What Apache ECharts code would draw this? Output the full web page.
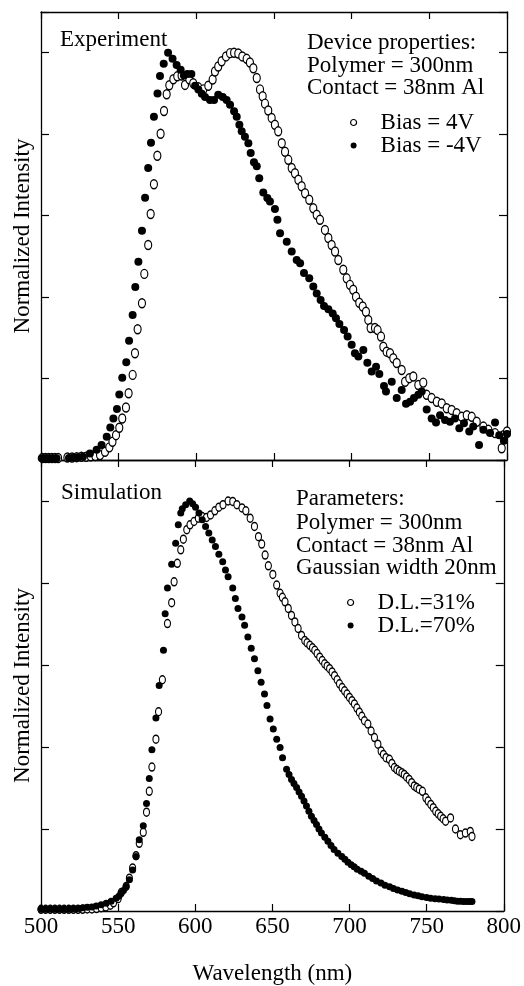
<!DOCTYPE html>
<html><head><meta charset="utf-8">
<script src="https://cdn.jsdelivr.net/npm/echarts@6/dist/echarts.min.js"></script>
<style>html,body{margin:0;padding:0;background:#fff}#c{width:524px;height:986px}</style>
</head><body><div id="c"></div>
<script>
// ---------- data ----------
const xTicks = [500, 550, 600, 650, 700, 750, 800];
const yTicks = [0, 0.2, 0.4, 0.6, 0.8, 1.0];
const yMax = 1.1;

const expBias4V = [[501,0.005],[503,0.005],[505,0.005],[507,0.005],[509,0.005],[511,0.005],[517,0.006],[520,0.006],[523,0.007],[526,0.008],[529,0.008],[532,0.009],[535,0.01],[538,0.012],[541.2,0.02],[544,0.031],[546,0.045],[548.3,0.061],[550.4,0.079],[552.3,0.102],[554.7,0.129],[556.4,0.164],[559,0.209],[560.5,0.262],[562.2,0.321],[565,0.385],[566.5,0.457],[569,0.528],[570.6,0.604],[572.7,0.677],[574.9,0.747],[577,0.801],[579.2,0.857],[580.9,0.898],[582.6,0.92],[585.2,0.935],[587.7,0.942],[590.5,0.944],[592.7,0.921],[595.5,0.935],[598,0.925],[601.3,0.915],[604.5,0.91],[607.7,0.919],[610.5,0.934],[612,0.954],[614.1,0.966],[616.3,0.979],[619.1,0.991],[621.7,0.999],[624.3,1.0],[627,0.998],[629.6,0.991],[632.4,0.985],[634.5,0.976],[636.7,0.962],[638.9,0.938],[641,0.91],[642.7,0.893],[644.2,0.875],[646.3,0.858],[648.5,0.84],[650.6,0.823],[652.7,0.807],[655,0.778],[657.1,0.757],[659.2,0.737],[661.4,0.717],[663.5,0.704],[665.7,0.688],[667.8,0.672],[670,0.655],[672.7,0.639],[675.3,0.618],[677.5,0.602],[679.6,0.59],[682.8,0.565],[685,0.545],[687.1,0.528],[689.3,0.512],[691.4,0.491],[694.6,0.467],[696.8,0.446],[698.9,0.43],[701,0.418],[702.8,0.401],[704.9,0.386],[707.1,0.377],[709.2,0.364],[710.7,0.344],[712.2,0.324],[715,0.324],[716.7,0.319],[718.9,0.303],[720.4,0.278],[722.5,0.266],[724.7,0.262],[726.8,0.25],[729,0.238],[732.2,0.221],[734.4,0.192],[737.1,0.201],[739.7,0.205],[742.9,0.184],[746.1,0.19],[748.3,0.16],[751.5,0.152],[754.8,0.143],[758,0.139],[761.2,0.127],[764.4,0.123],[767.6,0.115],[770.9,0.106],[774.1,0.11],[777.3,0.106],[780.5,0.094],[784.8,0.082],[788,0.074],[792.3,0.066],[796.6,0.029],[797.7,0.061],[800,0.07]];

const expBiasNeg4V = [[500.5,0.004],[502,0.004],[504,0.004],[506,0.004],[508,0.004],[510,0.004],[518,0.005],[521,0.006],[524,0.007],[527,0.008],[531.5,0.016],[535.8,0.025],[539,0.037],[542.3,0.057],[544.6,0.08],[546.6,0.102],[548.9,0.125],[550.4,0.161],[552.3,0.202],[554.9,0.24],[556.7,0.293],[559,0.356],[560.7,0.425],[562.7,0.487],[565,0.563],[567,0.644],[569,0.717],[570.8,0.779],[572.7,0.843],[575,0.9],[576.6,0.943],[579,0.973],[581.8,1.0],[584.7,0.985],[587.3,0.97],[589.9,0.958],[592,0.944],[594.2,0.948],[596.8,0.948],[599.2,0.919],[601.3,0.91],[603.5,0.899],[605.6,0.891],[608.8,0.884],[611.4,0.884],[614.1,0.897],[617,0.891],[619.5,0.884],[621.7,0.872],[624.3,0.856],[626,0.843],[627.7,0.823],[629.2,0.807],[631.3,0.794],[633.5,0.778],[635,0.754],[637.1,0.731],[638.9,0.721],[640.5,0.692],[643.1,0.657],[645.7,0.643],[647.4,0.635],[650.6,0.616],[652.2,0.59],[653.9,0.557],[658.2,0.536],[661.4,0.512],[664.6,0.491],[666.8,0.483],[669.3,0.459],[672.7,0.446],[675.3,0.426],[677.5,0.409],[680,0.393],[682.2,0.378],[685,0.37],[687.8,0.36],[689.9,0.348],[692.1,0.334],[695.1,0.319],[697.4,0.303],[700,0.283],[702.1,0.262],[704.3,0.254],[707.5,0.27],[710.1,0.239],[712.9,0.217],[715.7,0.229],[717.8,0.211],[720.8,0.182],[722.1,0.168],[725.8,0.192],[729,0.152],[732.2,0.172],[735,0.138],[737.6,0.143],[740.1,0.152],[742.9,0.16],[745.1,0.168],[748.3,0.124],[751.5,0.102],[754.3,0.092],[756.9,0.11],[760.1,0.098],[763.3,0.094],[766.5,0.102],[769.3,0.078],[772.3,0.09],[775.7,0.07],[778.3,0.082],[782,0.037],[784.8,0.074],[789.1,0.066],[792.3,0.092],[795,0.061],[798,0.047],[800,0.064]];

const simDL31 = [[500,0.004],[503,0.004],[506,0.004],[509,0.004],[512,0.004],[515,0.004],[518,0.004],[521,0.004],[524,0.004],[527,0.004],[530,0.005],[533,0.005],[536,0.006],[539,0.008],[542,0.01],[545,0.014],[547,0.02],[550,0.03],[552,0.045],[555.2,0.06],[557.3,0.08],[559.4,0.105],[561.6,0.135],[563.7,0.165],[566.3,0.192],[568.4,0.241],[570.2,0.292],[571.9,0.351],[574.5,0.419],[576.2,0.486],[578.7,0.564],[582,0.701],[584.7,0.752],[586.3,0.803],[588.4,0.848],[590.6,0.881],[592.3,0.907],[594.5,0.93],[596.6,0.942],[599.2,0.95],[602,0.958],[604.5,0.962],[607.3,0.96],[609.9,0.966],[612.7,0.976],[615.3,0.985],[618,0.991],[621.3,1.0],[624.3,0.999],[627,0.991],[630.3,0.983],[632.8,0.976],[635.6,0.958],[638.4,0.938],[641,0.913],[643.1,0.895],[645.3,0.868],[647.4,0.842],[650.3,0.821],[652.8,0.795],[655,0.775],[656.5,0.765],[658.2,0.754],[660.3,0.738],[662.4,0.721],[664.6,0.705],[666.7,0.689],[668.9,0.672],[671,0.66],[672.5,0.654],[674.3,0.648],[676,0.642],[677.5,0.636],[679,0.628],[680.7,0.619],[682.3,0.611],[683.9,0.603],[685.5,0.597],[687.1,0.591],[688.7,0.583],[690.3,0.574],[692,0.564],[693.5,0.554],[695.2,0.545],[696.8,0.537],[698.4,0.529],[700,0.521],[701.6,0.513],[703.2,0.505],[704.8,0.495],[706.4,0.485],[708,0.475],[709.7,0.464],[711.9,0.456],[714,0.439],[716.2,0.423],[718.4,0.407],[720.5,0.39],[722,0.382],[723.7,0.374],[725.9,0.37],[727.5,0.36],[729.1,0.35],[730.7,0.345],[732.3,0.341],[734,0.337],[735.5,0.333],[737,0.327],[738.7,0.321],[740.3,0.313],[742,0.305],[743.6,0.301],[745.2,0.297],[747.3,0.292],[749.5,0.276],[751,0.268],[752.7,0.26],[754.3,0.252],[755.9,0.243],[757.5,0.237],[759.1,0.231],[760.7,0.225],[762.3,0.219],[765.5,0.227],[768.7,0.2],[771.9,0.186],[775.1,0.19],[778.3,0.194],[779.4,0.182]];

const simDL70 = [[500,0.004],[502.5,0.004],[505,0.004],[507.5,0.004],[510,0.004],[512.5,0.004],[515,0.004],[517.5,0.004],[520,0.005],[522.5,0.005],[525,0.006],[527.2,0.008],[530,0.009],[533,0.01],[535.8,0.012],[539,0.015],[542.3,0.019],[545.5,0.024],[548.7,0.031],[550.5,0.036],[551.9,0.043],[553.5,0.05],[555.2,0.06],[557.3,0.076],[559.4,0.1],[561.6,0.133],[563.7,0.174],[566.3,0.208],[568.4,0.262],[570.2,0.323],[571.9,0.393],[574.5,0.471],[576.6,0.55],[579.4,0.636],[580.5,0.725],[582,0.788],[584.7,0.846],[587.3,0.897],[589,0.942],[590.6,0.971],[591.6,0.981],[593.8,0.991],[596.4,1.0],[598.3,0.993],[600.2,0.985],[602.4,0.971],[604.5,0.954],[606.7,0.938],[608.8,0.922],[611,0.905],[613.1,0.889],[615.3,0.87],[617.8,0.852],[619.6,0.832],[621.3,0.815],[624.3,0.788],[626,0.762],[627.7,0.738],[630.3,0.717],[632,0.697],[634.1,0.668],[636.3,0.641],[638.4,0.615],[640.6,0.586],[642.7,0.558],[644.9,0.529],[646.5,0.501],[648.5,0.468],[650.6,0.444],[652.8,0.419],[655,0.399],[656.6,0.374],[659.2,0.346],[660.8,0.333],[662.4,0.321],[664,0.311],[665.7,0.301],[667.3,0.29],[668.9,0.28],[670.5,0.268],[672.1,0.256],[673.7,0.243],[675.3,0.231],[677,0.221],[678.6,0.211],[680.2,0.2],[681.8,0.19],[684,0.18],[686,0.17],[688,0.16],[690,0.15],[692.5,0.141],[695,0.133],[697,0.126],[699,0.119],[701.1,0.113],[703,0.108],[705,0.102],[707.5,0.097],[709.7,0.092],[712.5,0.085],[715,0.079],[717.5,0.073],[720.4,0.068],[723,0.063],[726,0.059],[728.5,0.055],[731.2,0.051],[734,0.048],[736.5,0.045],[739,0.042],[741.9,0.039],[744.5,0.037],[747,0.035],[750,0.033],[752.6,0.031],[755.5,0.03],[758,0.029],[761,0.028],[763.3,0.027],[766,0.026],[768,0.025],[770,0.024],[772,0.024],[774,0.023],[776,0.023],[778,0.023],[779.4,0.023]];

// ---------- chart ----------
const FONT = '"Liberation Serif", "Times New Roman", serif';
const chart = echarts.init(document.getElementById('c'), null, {renderer: 'canvas'});

const lineStyle = {color: '#000', width: 1.3};
function xAx(grid, pos, labels) {
  return {
    type: 'value', gridIndex: grid, position: pos,
    min: xTicks[0], max: xTicks[xTicks.length - 1], interval: xTicks[1] - xTicks[0],
    axisLine: {show: true, onZero: false, lineStyle},
    axisTick: {show: true, inside: true, length: 7, lineStyle: {color: '#000', width: 1.2}},
    axisLabel: labels ? {show: true, color: '#000', fontFamily: FONT, fontSize: 23, margin: 4} : {show: false},
    splitLine: {show: false},
    name: labels ? 'Wavelength (nm)' : '',
    nameLocation: 'middle', nameGap: 51,
    nameTextStyle: {color: '#000', fontFamily: FONT, fontSize: 23}
  };
}
function yAx(grid, pos, named) {
  return {
    type: 'value', gridIndex: grid, position: pos,
    min: yTicks[0], max: yMax, interval: yTicks[1] - yTicks[0],
    axisLine: {show: true, onZero: false, lineStyle},
    axisTick: {show: true, inside: true, length: 8, lineStyle: {color: '#000', width: 1.2}},
    axisLabel: {show: false},
    splitLine: {show: false},
    name: named ? 'Normalized Intensity' : '',
    nameLocation: 'middle', nameGap: 7, nameRotate: 90,
    nameTextStyle: {color: '#000', fontFamily: FONT, fontSize: 23}
  };
}

const openStyle = {color: '#fff', borderColor: '#000', borderWidth: 1.3, opacity: 1};
const fillStyle = {color: '#000', opacity: 1};

function legendCfg(grid, left, top, names) {
  return {
    orient: 'vertical', left, top, itemWidth: 6, itemHeight: 7, itemGap: 0,
    icon: 'circle', selectedMode: false,
    textStyle: {color: '#000', fontFamily: FONT, fontSize: 23, lineHeight: 22, padding: [0, 0, 0, 19]},
    data: [
      {name: names[0], itemStyle: {color: '#fff', borderColor: '#000', borderWidth: 1.2}},
      {name: names[1], itemStyle: {color: '#000', borderWidth: 0}}
    ]
  };
}

function txt(x, y, s) {
  return {type: 'text', x, y, style: {text: s, font: '23px ' + FONT, fill: '#000', verticalAlign: 'middle'}};
}

chart.setOption({
  animation: false,
  backgroundColor: '#fff',
  grid: [
    {left: 41, top: 12, width: 466, height: 448},
    {left: 41, top: 460, width: 466, height: 451}
  ],
  xAxis: [xAx(0, 'bottom', false), xAx(0, 'top', false), xAx(1, 'bottom', true), xAx(1, 'top', false)],
  yAxis: [yAx(0, 'left', true), yAx(0, 'right', false), yAx(1, 'left', true), yAx(1, 'right', false)],
  legend: [
    legendCfg(0, 345, 106, ['Bias = 4V', 'Bias = -4V']),
    legendCfg(1, 342, 586, ['D.L.=31%', 'D.L.=70%'])
  ],
  graphic: [
    txt(60, 40, 'Experiment'),
    txt(307, 43, 'Device properties:'),
    txt(307, 66, 'Polymer = 300nm'),
    txt(307, 88, 'Contact = 38nm Al'),
    txt(61, 493, 'Simulation'),
    txt(296, 499, 'Parameters:'),
    txt(296, 523, 'Polymer = 300nm'),
    txt(296, 546, 'Contact = 38nm Al'),
    txt(296, 568, 'Gaussian width 20nm')
  ],
  series: [
    {name: 'Bias = 4V', type: 'scatter', xAxisIndex: 0, yAxisIndex: 0, data: expBias4V,
     symbol: 'circle', symbolSize: [7, 9], itemStyle: openStyle, z: 2},
    {name: 'Bias = -4V', type: 'scatter', xAxisIndex: 0, yAxisIndex: 0, data: expBiasNeg4V,
     symbol: 'circle', symbolSize: [8, 8], itemStyle: fillStyle, z: 3},
    {name: 'D.L.=31%', type: 'scatter', xAxisIndex: 2, yAxisIndex: 2, data: simDL31,
     symbol: 'circle', symbolSize: [6, 8], itemStyle: openStyle, z: 2},
    {name: 'D.L.=70%', type: 'scatter', xAxisIndex: 2, yAxisIndex: 2, data: simDL70,
     symbol: 'circle', symbolSize: [7, 7], itemStyle: fillStyle, z: 3}
  ]
});
</script>
</body></html>
